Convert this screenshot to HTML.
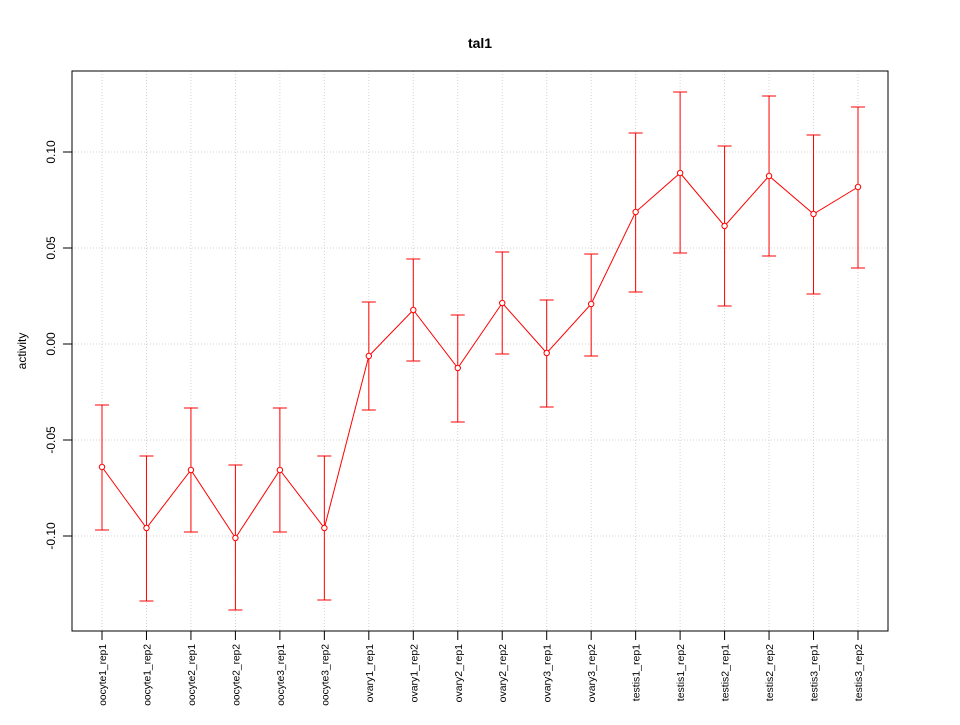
<!DOCTYPE html>
<html><head><meta charset="utf-8"><style>body{margin:0;background:#fff}</style></head><body>
<svg width="960" height="720" xmlns="http://www.w3.org/2000/svg" font-family="Liberation Sans, sans-serif">
<rect width="960" height="720" fill="#fff"/>
<text x="480" y="48" text-anchor="middle" font-size="14" font-weight="bold">tal1</text>
<g stroke="#d3d3d3" stroke-dasharray="1,2" stroke-width="1">
<line x1="72" x2="888" y1="152" y2="152"/><line x1="72" x2="888" y1="248" y2="248"/><line x1="72" x2="888" y1="344" y2="344"/><line x1="72" x2="888" y1="440" y2="440"/><line x1="72" x2="888" y1="536" y2="536"/>
</g>
<g id="grid"></g>
<rect x="72" y="71" width="816" height="560" fill="none" stroke="#000"/>
<g font-size="12" text-anchor="middle">
<text transform="translate(55,152) rotate(-90)">0.10</text>
<text transform="translate(55,248) rotate(-90)">0.05</text>
<text transform="translate(55,344) rotate(-90)">0.00</text>
<text transform="translate(55,440) rotate(-90)">-0.05</text>
<text transform="translate(55,536) rotate(-90)">-0.10</text>
<text transform="translate(26,351) rotate(-90)">activity</text>
</g>
<g stroke="#000"><line x1="63" x2="72" y1="152" y2="152"/><line x1="63" x2="72" y1="248" y2="248"/><line x1="63" x2="72" y1="344" y2="344"/><line x1="63" x2="72" y1="440" y2="440"/><line x1="63" x2="72" y1="536" y2="536"/></g>
<g id="data"></g>
</svg>
<script>
var names=["oocyte1_rep1","oocyte1_rep2","oocyte2_rep1","oocyte2_rep2","oocyte3_rep1","oocyte3_rep2","ovary1_rep1","ovary1_rep2","ovary2_rep1","ovary2_rep2","ovary3_rep1","ovary3_rep2","testis1_rep1","testis1_rep2","testis2_rep1","testis2_rep2","testis3_rep1","testis3_rep2"];
var d=[[467,405,530],[528,456,601],[470,408,532],[538,465,610],[470,408,532],[528,456,600],[356,302,410],[310,259,361],[368,315,422],[303,252,354],[353,300,407],[304,254,356],[212,133,292],[173,92,253],[226,146,306],[176,96,256],[214,135,294],[187,107,268]];
var s="",g="",pts=[];
for(var i=0;i<18;i++){var x=102+i*44.47;pts.push(x+","+d[i][0]);
g+='<line x1="'+x+'" x2="'+x+'" y1="71" y2="631" stroke="#d3d3d3" stroke-dasharray="1,2"/>';
g+='<line x1="'+x+'" x2="'+x+'" y1="631" y2="640" stroke="#000"/>';
var sz=names[i].indexOf("oocyte")==0?10.2:10.5;
g+='<text font-size="'+sz+'" text-anchor="end" transform="translate('+(x+4)+',644) rotate(-90)">'+names[i]+'</text>';
s+='<line x1="'+x+'" x2="'+x+'" y1="'+d[i][1]+'" y2="'+d[i][2]+'" stroke="red"/>';
s+='<line x1="'+(x-7)+'" x2="'+(x+7)+'" y1="'+d[i][1]+'" y2="'+d[i][1]+'" stroke="red"/>';
s+='<line x1="'+(x-7)+'" x2="'+(x+7)+'" y1="'+d[i][2]+'" y2="'+d[i][2]+'" stroke="red"/>';
s+='<circle cx="'+x+'" cy="'+d[i][0]+'" r="2.7" fill="#fff" stroke="red"/>';}
s='<polyline points="'+pts.join(" ")+'" fill="none" stroke="red"/>'+s;
document.getElementById("grid").innerHTML=g;document.getElementById("data").innerHTML=s;
</script>
</body></html>
